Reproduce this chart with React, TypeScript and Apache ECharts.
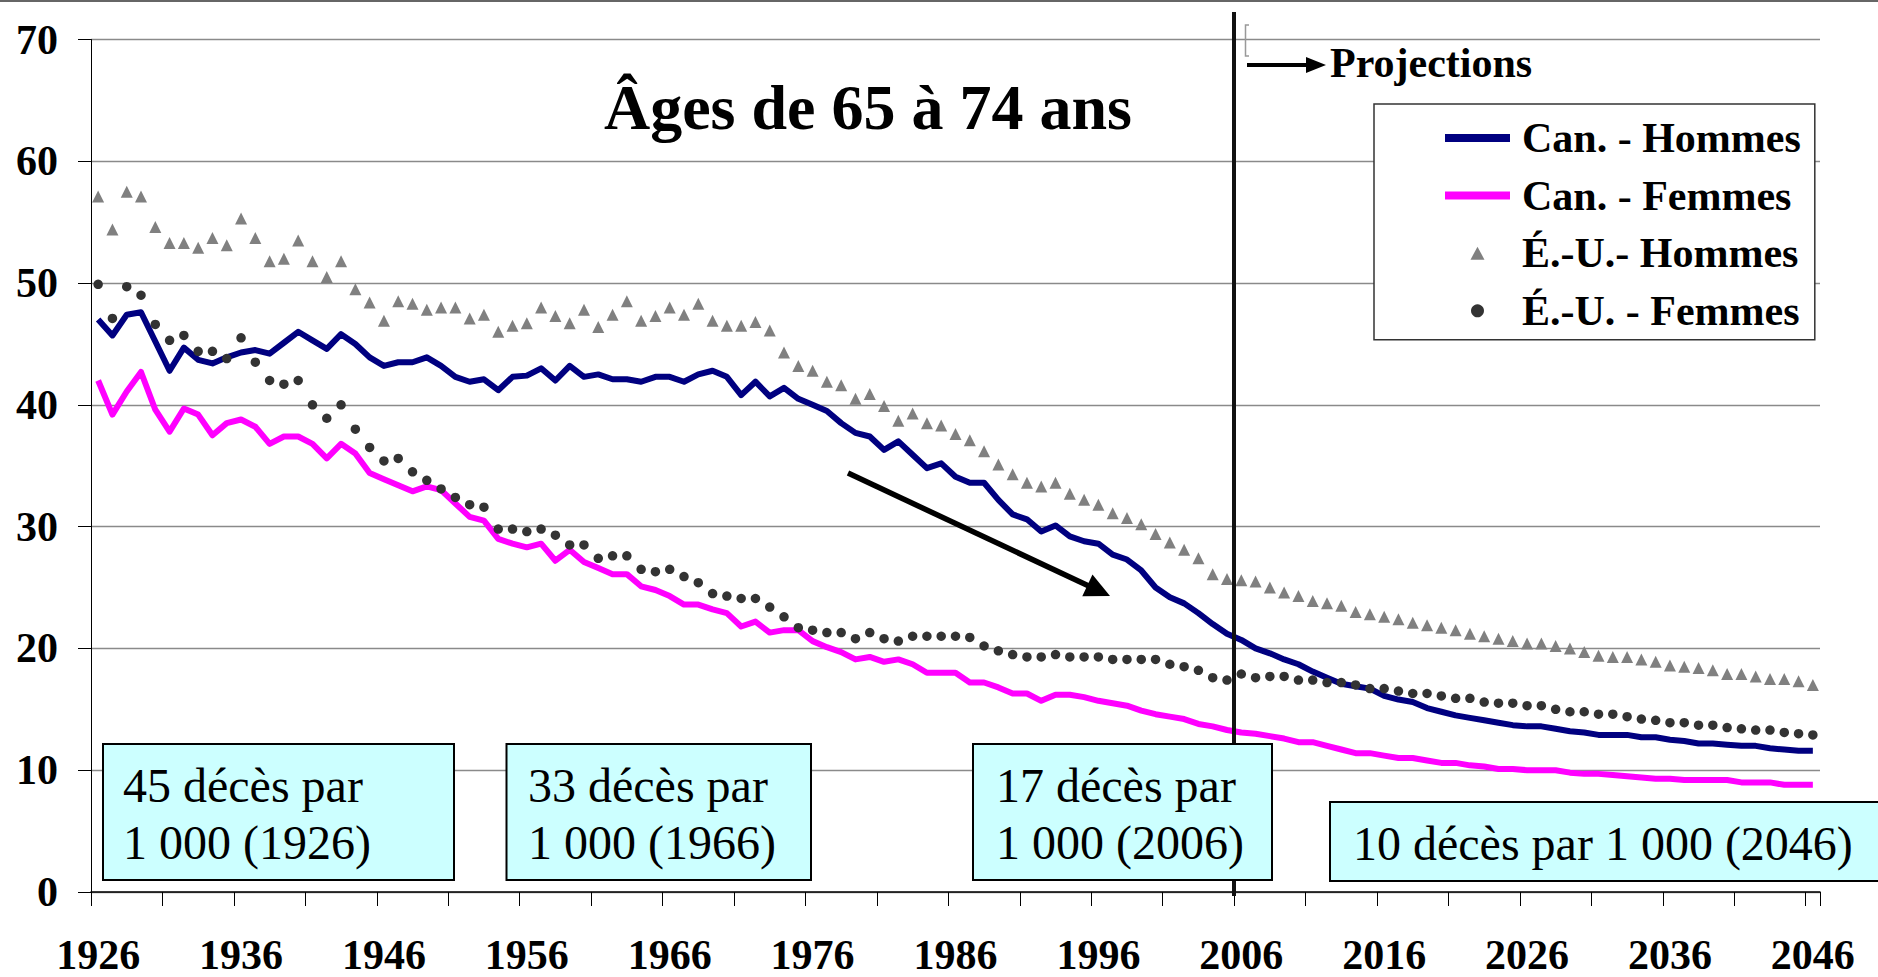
import React, { useEffect, useRef } from "react";
import * as echarts from "echarts";

const years: string[] = Array.from({ length: 121 }, (_, i) => String(1926 + i));

const canHommes = [
  47.0, 45.7, 47.4, 47.6, 45.2, 42.8, 44.7, 43.7, 43.4, 43.9,
  44.3, 44.5, 44.2, 45.1, 46.0, 45.3, 44.6, 45.8, 45.0, 43.9,
  43.2, 43.5, 43.5, 43.9, 43.2, 42.3, 41.9, 42.1, 41.2, 42.3,
  42.4, 43.0, 42.0, 43.2, 42.3, 42.5, 42.1, 42.1, 41.9, 42.3,
  42.3, 41.9, 42.5, 42.8, 42.3, 40.8, 41.9, 40.7, 41.4, 40.5,
  40.0, 39.5, 38.5, 37.7, 37.4, 36.3, 37.0, 35.9, 34.8, 35.2,
  34.1, 33.6, 33.6, 32.2, 31.0, 30.6, 29.6, 30.1, 29.2, 28.8,
  28.6, 27.7, 27.3, 26.4, 25.0, 24.2, 23.7, 22.9, 22.0, 21.2,
  20.7, 20.0, 19.6, 19.1, 18.7, 18.1, 17.6, 17.1, 16.9, 16.7,
  16.1, 15.8, 15.6, 15.1, 14.8, 14.5, 14.3, 14.1, 13.9, 13.7,
  13.6, 13.6, 13.4, 13.2, 13.1, 12.9, 12.9, 12.9, 12.7, 12.7,
  12.5, 12.4, 12.2, 12.2, 12.1, 12.0, 12.0, 11.8, 11.7, 11.6,
  11.6,
];

const canFemmes = [
  42.0, 39.2, 41.1, 42.7, 39.6, 37.8, 39.7, 39.2, 37.5, 38.5,
  38.8, 38.2, 36.8, 37.4, 37.4, 36.8, 35.6, 36.8, 36.0, 34.4,
  33.9, 33.4, 32.9, 33.3, 33.0, 31.9, 30.8, 30.5, 29.0, 28.6,
  28.3, 28.6, 27.2, 28.1, 27.1, 26.6, 26.1, 26.1, 25.1, 24.8,
  24.3, 23.6, 23.6, 23.2, 22.9, 21.8, 22.2, 21.3, 21.5, 21.5,
  20.6, 20.1, 19.7, 19.1, 19.3, 18.9, 19.1, 18.7, 18.0, 18.0,
  18.0, 17.2, 17.2, 16.8, 16.3, 16.3, 15.7, 16.2, 16.2, 16.0,
  15.7, 15.5, 15.3, 14.9, 14.6, 14.4, 14.2, 13.8, 13.6, 13.3,
  13.1, 13.0, 12.8, 12.6, 12.3, 12.3, 12.0, 11.7, 11.4, 11.4,
  11.2, 11.0, 11.0, 10.8, 10.6, 10.6, 10.4, 10.3, 10.1, 10.1,
  10.0, 10.0, 10.0, 9.8, 9.7, 9.7, 9.6, 9.5, 9.4, 9.3,
  9.3, 9.2, 9.2, 9.2, 9.2, 9.0, 9.0, 9.0, 8.8, 8.8,
  8.8,
];

const euHommes = [
  57.1, 54.4, 57.5, 57.1, 54.6, 53.3, 53.3, 52.9, 53.7, 53.1,
  55.3, 53.7, 51.8, 52.0, 53.5, 51.8, 50.5, 51.8, 49.5, 48.4,
  46.9, 48.5, 48.3, 47.8, 48.0, 48.0, 47.1, 47.4, 46.0, 46.5,
  46.7, 48.0, 47.3, 46.7, 47.8, 46.4, 47.4, 48.5, 46.9, 47.3,
  48.0, 47.4, 48.3, 46.9, 46.5, 46.5, 46.8, 46.1, 44.3, 43.2,
  42.8, 41.9, 41.6, 40.5, 40.9, 39.9, 38.7, 39.3, 38.5, 38.3,
  37.6, 37.1, 36.2, 35.1, 34.3, 33.6, 33.3, 33.6, 32.7, 32.2,
  31.8, 31.1, 30.7, 30.2, 29.4, 28.7, 28.1, 27.4, 26.1, 25.7,
  25.6, 25.5, 25.0, 24.6, 24.3, 23.9, 23.7, 23.5, 23.0, 22.8,
  22.6, 22.4, 22.1, 21.9, 21.7, 21.5, 21.2, 21.0, 20.8, 20.6,
  20.4, 20.4, 20.2, 20.0, 19.7, 19.4, 19.3, 19.3, 19.1, 18.9,
  18.6, 18.5, 18.4, 18.2, 17.9, 17.9, 17.7, 17.5, 17.5, 17.3,
  17.0,
];

const euFemmes = [
  49.9, 47.1, 49.7, 49.0, 46.6, 45.3, 45.7, 44.4, 44.4, 43.8,
  45.5, 43.5, 42.0, 41.7, 42.0, 40.0, 38.9, 40.0, 38.0, 36.5,
  35.4, 35.6, 34.5, 33.8, 33.1, 32.4, 31.8, 31.6, 29.8, 29.8,
  29.6, 29.8, 29.3, 28.5, 28.5, 27.4, 27.6, 27.6, 26.5, 26.3,
  26.5, 25.9, 25.4, 24.5, 24.3, 24.1, 24.1, 23.4, 22.6, 21.7,
  21.5, 21.3, 21.3, 20.8, 21.3, 20.8, 20.6, 21.0, 21.0, 21.0,
  21.0, 20.9, 20.2, 19.8, 19.5, 19.3, 19.3, 19.5, 19.3, 19.3,
  19.3, 19.1, 19.1, 19.1, 19.1, 18.7, 18.5, 18.2, 17.6, 17.4,
  17.9, 17.6, 17.7, 17.7, 17.4, 17.4, 17.2, 17.2, 17.0, 16.7,
  16.7, 16.5, 16.3, 16.3, 16.1, 15.9, 15.9, 15.6, 15.5, 15.5,
  15.3, 15.3, 15.0, 14.8, 14.8, 14.6, 14.6, 14.4, 14.2, 14.1,
  13.9, 13.9, 13.7, 13.7, 13.5, 13.4, 13.3, 13.3, 13.1, 13.0,
  12.9,
];

const seriesNames = ["Can. - Hommes", "Can. - Femmes", "É.-U.- Hommes", "É.-U. - Femmes"];
const title = "Âges de 65 à 74 ans";
const projectionLabel = "Projections";
const boxLines = [
  ["45 décès par", "1 000 (1926)"],
  ["33 décès par", "1 000 (1966)"],
  ["17 décès par", "1 000 (2006)"],
];
const boxSingle = "10 décès par 1 000 (2046)";

const FONT = "'Liberation Serif', 'Times New Roman', serif";

function textEl(text: string, x: number, y: number, size: number, bold: boolean, align = "left", z = 110) {
  return {
    type: "text",
    z,
    style: {
      text,
      x,
      y,
      fill: "#000",
      fontSize: size,
      fontWeight: bold ? "bold" : "normal",
      fontFamily: FONT,
      textAlign: align,
      verticalAlign: "middle",
      textVerticalAlign: "middle",
    },
  };
}

function boxEl(x: number, y: number, w: number, h: number) {
  return {
    type: "rect",
    z: 100,
    shape: { x, y, width: w, height: h },
    style: { fill: "#CCFFFF", stroke: "#000", lineWidth: 2 },
  };
}

export default function App() {
  const ref = useRef<HTMLDivElement>(null);

  useEffect(() => {
    if (!ref.current) return;
    const chart = echarts.init(ref.current, undefined, { renderer: "svg" });

    // diagonal arrow geometry
    const tx = 1110, ty = 596, sx = 848, sy = 473;
    const dx = tx - sx, dy = ty - sy;
    const len = Math.sqrt(dx * dx + dy * dy);
    const ux = dx / len, uy = dy / len;
    const hl = 25, hw = 12;
    const bx = tx - hl * ux, by = ty - hl * uy;
    const nx = -uy, ny = ux;

    const option: any = {
      animation: false,
      backgroundColor: "#fff",
      grid: {
        left: 91,
        right: 58,
        top: 39.5,
        bottom: 85,
        containLabel: false,
        outerBoundsMode: "none",
      },
      legend: {
        orient: "vertical",
        left: 1374,
        top: 104,
        padding: [13, 14, 8, 71],
        itemGap: 15.6,
        itemWidth: 65,
        itemHeight: 13,
        backgroundColor: "#fff",
        borderColor: "#333",
        borderWidth: 1.5,
        borderRadius: 0,
        selectedMode: false,
        symbolKeepAspect: true,
        itemStyle: { borderWidth: 0, opacity: 1 },
        textStyle: {
          fontSize: 42,
          fontWeight: "bold",
          fontFamily: FONT,
          color: "#000",
          lineHeight: 42,
          padding: [0, 0, 0, 7],
        },
        data: [
          { name: seriesNames[0], icon: "path://M0,0H65V8H0Z" },
          { name: seriesNames[1], icon: "path://M0,0H65V8H0Z" },
          { name: seriesNames[2], icon: "path://M7,0L14,13H0Z" },
          { name: seriesNames[3], icon: "circle" },
        ],
      },
      xAxis: {
        type: "category",
        data: years,
        boundaryGap: true,
        axisLine: { show: true, lineStyle: { color: "#000", width: 1.5 } },
        axisTick: { show: true, interval: 4, length: 14, lineStyle: { color: "#000", width: 1 } },
        axisLabel: {
          interval: 9,
          margin: 48,
          fontSize: 42,
          lineHeight: 30,
          fontWeight: "bold",
          fontFamily: FONT,
          color: "#000",
        },
        splitLine: { show: false },
      },
      yAxis: {
        type: "value",
        min: 0,
        max: 70,
        interval: 10,
        axisLine: { show: true, lineStyle: { color: "#000", width: 1 } },
        axisTick: { show: true, length: 13, lineStyle: { color: "#000", width: 1 } },
        axisLabel: {
          margin: 33,
          fontSize: 42,
          fontWeight: "bold",
          fontFamily: FONT,
          color: "#000",
        },
        splitLine: { show: true, lineStyle: { color: "#8a8a8a", width: 1.3 } },
      },
      series: [
        {
          name: seriesNames[0],
          type: "line",
          data: canHommes,
          symbol: "none",
          showSymbol: false,
          lineStyle: { color: "#000080", width: 6, join: "round" },
          itemStyle: { color: "#000080" },
          z: 2,
        },
        {
          name: seriesNames[1],
          type: "line",
          data: canFemmes,
          symbol: "none",
          showSymbol: false,
          lineStyle: { color: "#FF00FF", width: 6, join: "round" },
          itemStyle: { color: "#FF00FF" },
          z: 2,
        },
        {
          name: seriesNames[2],
          type: "scatter",
          data: euHommes,
          symbol: "triangle",
          symbolSize: 12,
          itemStyle: { color: "#808080", opacity: 1 },
          z: 3,
        },
        {
          name: seriesNames[3],
          type: "scatter",
          data: euFemmes,
          symbol: "circle",
          symbolSize: 9.5,
          itemStyle: { color: "#333333", opacity: 1 },
          z: 4,
        },
      ],
      graphic: [
        { type: "rect", z: 90, shape: { x: 0, y: 0, width: 1878, height: 2 }, style: { fill: "#666" } },
        {
          type: "line",
          z: 60,
          shape: { x1: 1234, y1: 12, x2: 1234, y2: 896 },
          style: { stroke: "#111", lineWidth: 4 },
        },
        {
          type: "polyline",
          z: 60,
          shape: { points: [[1249, 25], [1245.5, 25], [1245.5, 56], [1249, 56]] },
          style: { stroke: "#999", lineWidth: 1.5, fill: null },
        },
        {
          type: "line",
          z: 60,
          shape: { x1: 1247, y1: 65, x2: 1310, y2: 65 },
          style: { stroke: "#000", lineWidth: 4 },
        },
        {
          type: "polygon",
          z: 60,
          shape: { points: [[1306, 57], [1326, 65], [1306, 73]] },
          style: { fill: "#000" },
        },
        {
          type: "line",
          z: 60,
          shape: { x1: sx, y1: sy, x2: bx + ux, y2: by + uy },
          style: { stroke: "#000", lineWidth: 5.5 },
        },
        {
          type: "polygon",
          z: 60,
          shape: {
            points: [
              [tx, ty],
              [bx + hw * nx, by + hw * ny],
              [bx - hw * nx, by - hw * ny],
            ],
          },
          style: { fill: "#000" },
        },
        textEl(title, 868, 107, 64, true, "center"),
        textEl(projectionLabel, 1330, 63, 42, true, "left"),
        boxEl(103, 744, 351, 136),
        textEl(boxLines[0][0], 123, 785, 48, false),
        textEl(boxLines[0][1], 123, 842, 48, false),
        boxEl(506.5, 744, 304.5, 136),
        textEl(boxLines[1][0], 528, 785, 48, false),
        textEl(boxLines[1][1], 528, 842, 48, false),
        boxEl(973, 744, 299, 136),
        textEl(boxLines[2][0], 996, 785, 48, false),
        textEl(boxLines[2][1], 996, 842, 48, false),
        boxEl(1330, 802, 560, 79),
        textEl(boxSingle, 1353, 843, 48, false),
      ],
    };

    chart.setOption(option);
    return () => chart.dispose();
  }, []);

  return (
    <div
      ref={ref}
      style={{ position: "fixed", left: 0, top: 0, width: 1878, height: 977, background: "#fff" }}
    />
  );
}
